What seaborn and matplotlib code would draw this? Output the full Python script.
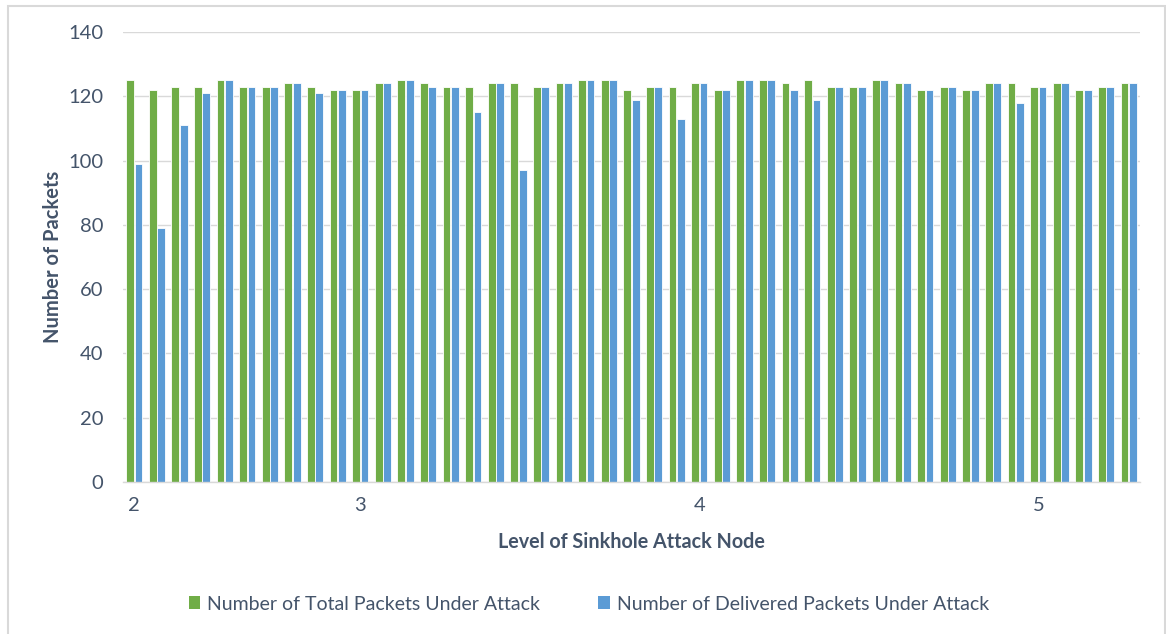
import matplotlib
matplotlib.use("Agg")
import matplotlib.pyplot as plt
import matplotlib.patches as mpatches
import seaborn as sns
import pandas as pd

# Per-run packet counts for the sinkhole attack experiments
total_packets = [125, 122, 123, 123, 125, 123, 123, 124, 123, 122,
                 122, 124, 125, 124, 123, 123, 124, 124, 123, 124,
                 125, 125, 122, 123, 123, 124, 122, 125, 125, 124,
                 125, 123, 123, 125, 124, 122, 123, 122, 124, 124,
                 123, 124, 122, 123, 124]
delivered_packets = [99, 79, 111, 121, 125, 123, 123, 124, 121, 122,
                     122, 124, 125, 123, 123, 115, 124, 97, 123, 124,
                     125, 125, 119, 123, 113, 124, 122, 125, 125, 122,
                     119, 123, 123, 125, 124, 122, 123, 122, 124, 118,
                     123, 124, 122, 123, 124]
# Level labels shown on the category axis (blank for the other runs)
level_labels = {0: "2", 10: "3", 25: "4", 40: "5"}
series_names = ["Number of Total Packets Under Attack",
                "Number of Delivered Packets Under Attack"]
colors = ["#70AD47", "#5B9BD5"]

n = len(total_packets)
df = pd.DataFrame({
    "run": list(range(n)) * 2,
    "packets": total_packets + delivered_packets,
    "series": [series_names[0]] * n + [series_names[1]] * n,
})

sns.set_theme(style="white")
plt.rcParams["font.family"] = ["Lato", "DejaVu Sans"]

text_color = "#44546A"
grid_color = "#D9D9D9"

fig = plt.figure(figsize=(11.66, 6.34), dpi=100)
ax = fig.add_axes([123 / 1166, 1 - 482 / 634, (1140 - 123) / 1166, (482 - 32) / 634])

sns.barplot(data=df, x="run", y="packets", hue="series", order=list(range(n)),
            hue_order=series_names, palette=colors, width=0.75, gap=0.08,
            edgecolor="white", linewidth=0.6, saturation=1, ax=ax, legend=False)

ax.set_xlim(-0.5, n - 0.5)
ax.set_ylim(0, 140)
ax.set_yticks(range(0, 141, 20))
ax.set_xticks(range(n))
ax.set_xticklabels([level_labels.get(i, "") for i in range(n)])
ax.tick_params(axis="both", length=0, labelsize=14.5, labelcolor=text_color)
ax.tick_params(axis="x", pad=11)
ax.tick_params(axis="y", pad=14)

ax.yaxis.grid(True, color=grid_color, linewidth=1)
ax.set_axisbelow(True)
for side in ["top", "right", "left"]:
    ax.spines[side].set_visible(False)
ax.spines["bottom"].set_color(grid_color)
ax.spines["bottom"].set_linewidth(1)

ax.set_xlabel("Level of Sinkhole Attack Node", fontsize=14.2, fontweight="bold",
              color=text_color, labelpad=13)
ax.set_ylabel("Number of Packets", fontsize=14.5, fontweight="bold",
              color=text_color, labelpad=4)

handles = [mpatches.Patch(facecolor=c, edgecolor="none") for c in colors]
fig.legend(handles, series_names, loc="center", bbox_to_anchor=(0.505, 1 - 604 / 634),
           ncol=2, frameon=False, fontsize=14, labelcolor=text_color,
           handlelength=0.6, handleheight=0.6, handletextpad=0.35, columnspacing=3.0)

# Chart area border
fig.patches.append(mpatches.Rectangle((8 / 1166, -0.01), (1165 - 8) / 1166, 1.01 - 6 / 634,
                                      transform=fig.transFigure, fill=False,
                                      edgecolor=grid_color, linewidth=1.5))

fig.savefig("out.png", dpi=100, facecolor="white")
